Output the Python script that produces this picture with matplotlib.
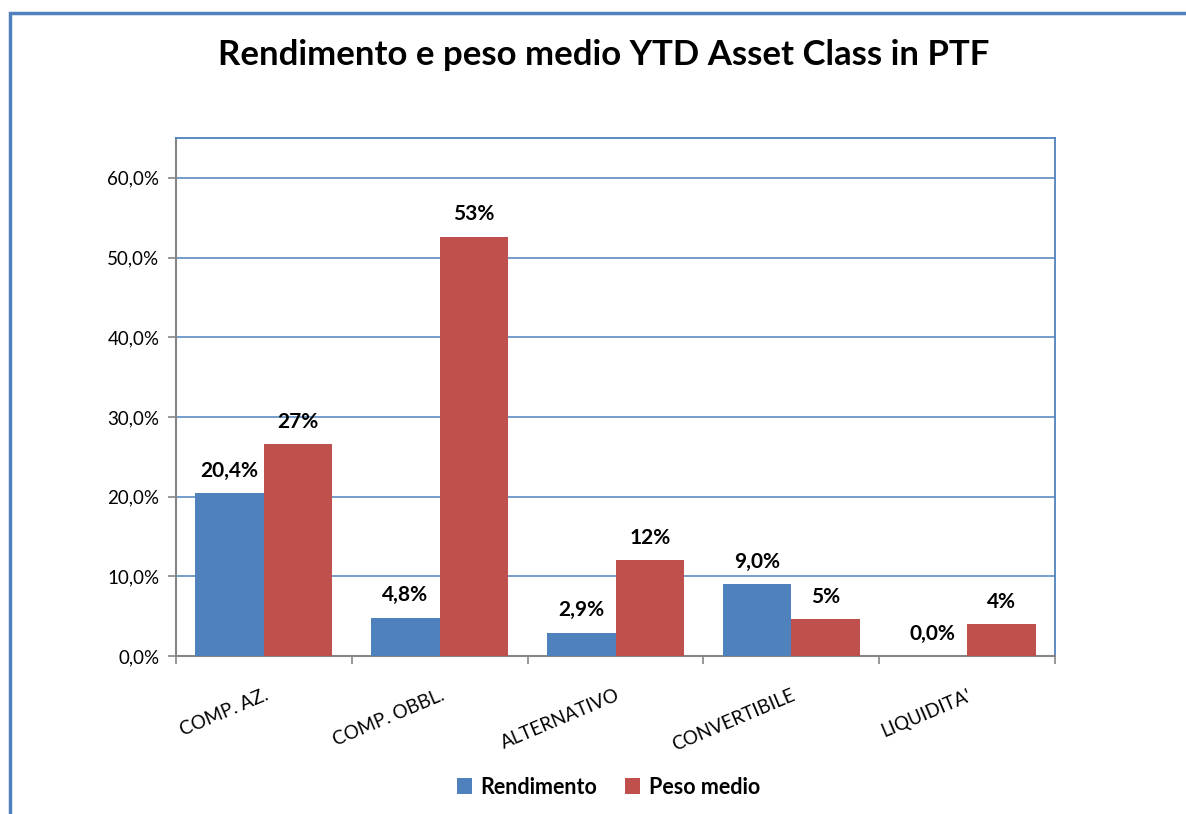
import matplotlib

matplotlib.use("Agg")
import matplotlib.pyplot as plt
import numpy as np
from matplotlib.patches import Rectangle
from matplotlib.ticker import FuncFormatter, FixedLocator

categories = ["COMP. AZ.", "COMP. OBBL.", "ALTERNATIVO", "CONVERTIBILE", "LIQUIDITA'"]
rendimento = [20.4, 4.8, 2.9, 9.0, 0.0]
peso_medio = [26.6, 52.6, 12.0, 4.6, 4.0]

BLUE = "#4F81BD"
RED = "#C0504D"
GRAY = "#868686"
FONT = ["Lato", "DejaVu Sans"]

plt.rcParams["font.family"] = FONT

W, H = 1186, 814
fig = plt.figure(figsize=(W / 100, H / 100), dpi=100)

# outer frame (runs off right and bottom edges)
fig.patches.append(Rectangle((10 / W, -0.1), 1.2, 1 - 13 / H + 0.1,
                             transform=fig.transFigure, fill=False,
                             edgecolor=BLUE, linewidth=2.5))

ax = fig.add_axes([176 / W, 1 - 656 / H, (1055 - 176) / W, (656 - 138) / H])

x = np.arange(len(categories))
bw = 0.39
b1 = ax.bar(x - bw / 2, rendimento, bw, color=BLUE, label="Rendimento", zorder=3)
b2 = ax.bar(x + bw / 2, peso_medio, bw, color=RED, label="Peso medio", zorder=3)

ax.set_xlim(-0.5, len(categories) - 0.5)
ax.set_ylim(0, 65)
ax.yaxis.set_major_locator(FixedLocator(np.arange(0, 61, 10)))
ax.yaxis.set_major_formatter(FuncFormatter(lambda v, p: f"{v:.1f}%".replace(".", ",")))
ax.grid(axis="y", color=BLUE, linewidth=1.1, zorder=0)
ax.set_axisbelow(True)

for s in ("top", "right"):
    ax.spines[s].set_color(BLUE)
    ax.spines[s].set_linewidth(1.3)
for s in ("left", "bottom"):
    ax.spines[s].set_color(GRAY)
    ax.spines[s].set_linewidth(1.5)

ax.tick_params(axis="y", length=6, color=GRAY, width=1.2, labelsize=13.5, pad=6)
ax.set_xticks(x)
ax.set_xticklabels(categories, rotation=23, ha="right", rotation_mode="anchor",
                   fontsize=13.5)
ax.tick_params(axis="x", length=0, pad=22)
ax.set_xticks(np.arange(-0.5, len(categories)), minor=True)
ax.tick_params(axis="x", which="minor", length=6, color=GRAY, width=1.2)

for r, v in zip(b1, rendimento):
    ax.annotate(f"{v:.1f}%".replace(".", ","), (r.get_x() + r.get_width() / 2, v),
                xytext=(0, 9), textcoords="offset points", ha="center",
                va="bottom", fontsize=15, fontweight="bold")
for r, v in zip(b2, peso_medio):
    ax.annotate(f"{v:.0f}%", (r.get_x() + r.get_width() / 2, v),
                xytext=(0, 9), textcoords="offset points", ha="center",
                va="bottom", fontsize=15, fontweight="bold")

fig.text(0.509, 1 - 55 / H, "Rendimento e peso medio YTD Asset Class in PTF",
         ha="center", va="center", fontsize=25, fontweight="bold")

leg = fig.legend(handles=[b1, b2], loc="center", bbox_to_anchor=(0.513, 1 - 787 / H),
                 ncol=2, frameon=False, handlelength=0.7, handleheight=0.7,
                 columnspacing=1.3, handletextpad=0.4,
                 prop={"size": 15.5, "weight": "bold"})

fig.savefig("out.png", dpi=100)
